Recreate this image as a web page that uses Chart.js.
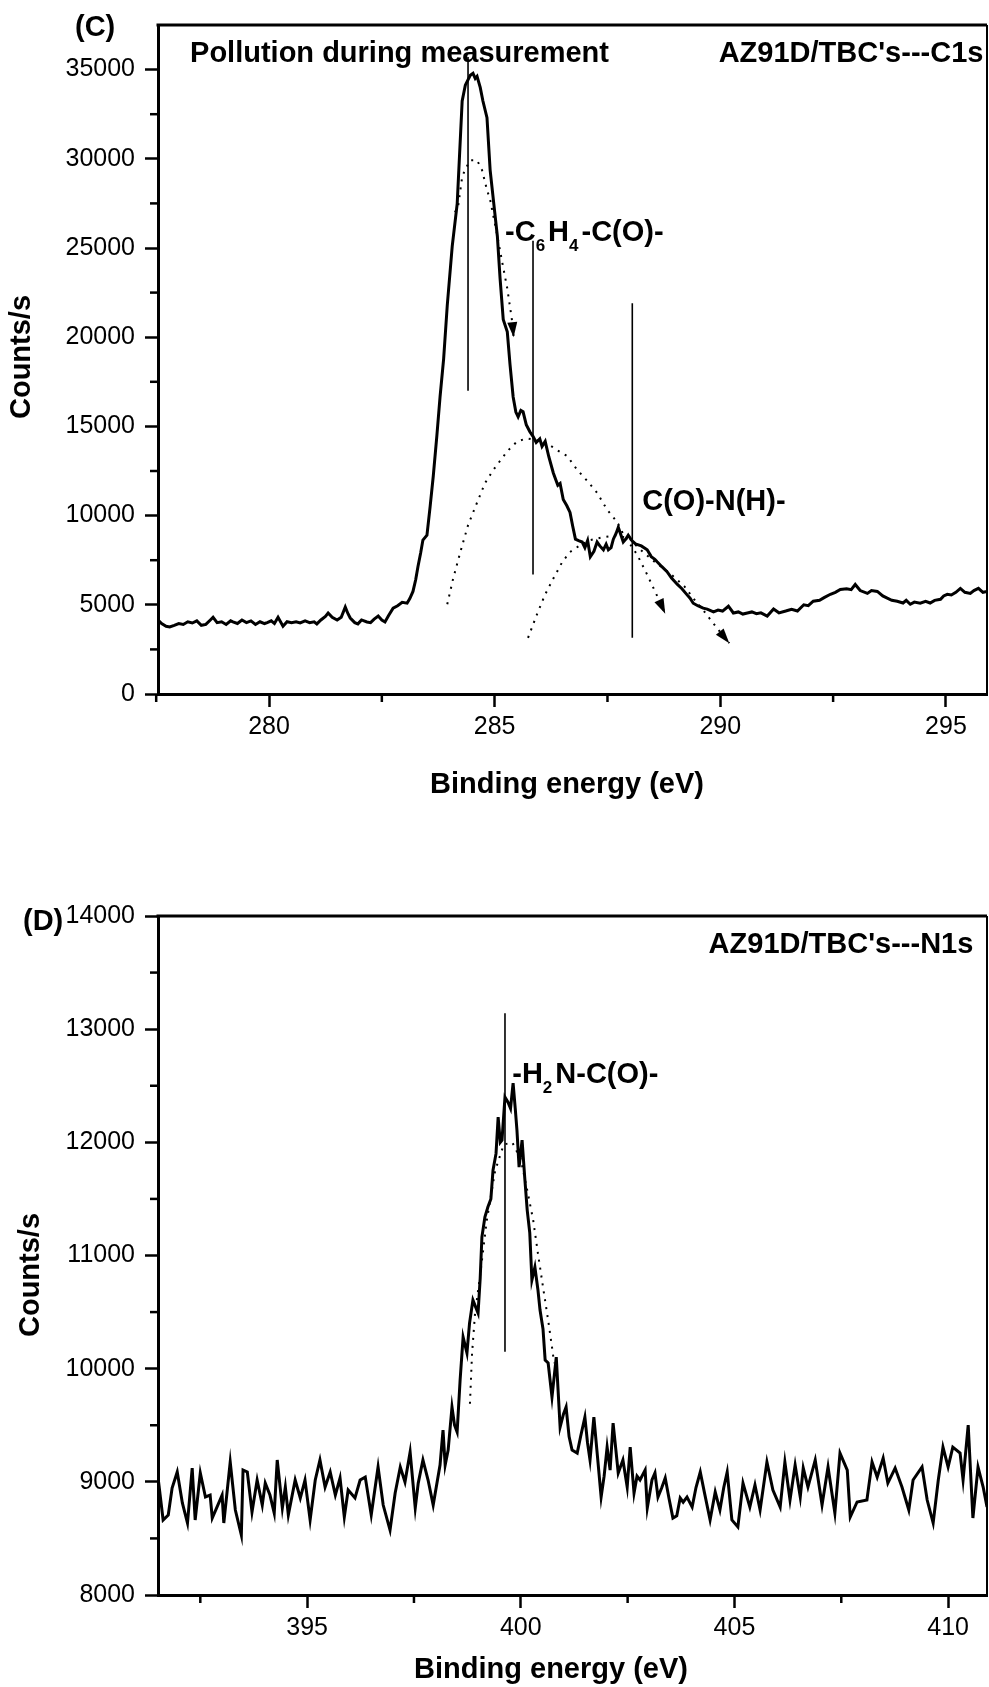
<!DOCTYPE html>
<html>
<head>
<meta charset="utf-8">
<script src="https://cdn.jsdelivr.net/npm/chart.js@4.4.1/dist/chart.umd.min.js"></script>
<style>
  html, body { margin: 0; padding: 0; background: #fff; }
  body { width: 989px; height: 1687px; position: relative; overflow: hidden; }
  .panel { position: absolute; left: 0; width: 989px; }
  #panelC { top: 0; height: 830px; }
  #panelD { top: 830px; height: 857px; }
</style>
</head>
<body>
<div class="panel" id="panelC"><canvas id="chartC" width="989" height="830"></canvas></div>
<div class="panel" id="panelD"><canvas id="chartD" width="989" height="857"></canvas></div>
<script>
// ---- (C) C1s spectrum ----
const c1sEnergy = [277.52,277.62,277.72,277.80,277.90,278.00,278.10,278.20,278.30,278.40,278.50,278.60,278.70,278.76,278.85,278.95,279.05,279.15,279.20,279.30,279.40,279.50,279.60,279.70,279.80,279.90,279.96,280.05,280.12,280.20,280.31,280.40,280.50,280.60,280.69,280.80,280.90,281.00,281.06,281.15,281.25,281.31,281.40,281.51,281.60,281.69,281.75,281.80,281.90,281.97,282.05,282.17,282.25,282.33,282.42,282.50,282.57,282.65,282.75,282.85,282.95,283.06,283.12,283.19,283.25,283.30,283.36,283.41,283.50,283.57,283.64,283.72,283.79,283.87,283.95,284.06,284.17,284.28,284.35,284.46,284.52,284.57,284.61,284.68,284.74,284.83,284.90,284.98,285.06,285.12,285.19,285.28,285.34,285.41,285.47,285.52,285.58,285.63,285.70,285.78,285.85,285.92,286.00,286.05,286.12,286.20,286.30,286.40,286.45,286.52,286.60,286.67,286.73,286.79,286.86,286.94,287.00,287.06,287.12,287.20,287.27,287.33,287.41,287.47,287.52,287.58,287.63,287.69,287.74,287.80,287.85,287.91,287.96,288.04,288.12,288.25,288.38,288.47,288.55,288.60,288.70,288.82,288.92,289.05,289.15,289.25,289.33,289.40,289.50,289.62,289.71,289.85,289.95,290.05,290.18,290.29,290.40,290.50,290.60,290.70,290.80,290.90,291.04,291.18,291.30,291.45,291.58,291.71,291.85,291.95,292.06,292.20,292.30,292.44,292.55,292.66,292.80,292.90,292.99,293.10,293.26,293.35,293.48,293.60,293.70,293.80,293.92,294.05,294.12,294.21,294.30,294.43,294.55,294.65,294.75,294.88,294.95,295.03,295.12,295.22,295.32,295.42,295.54,295.62,295.72,295.82,295.92];
const c1sCounts = [4200,3950,3800,3760,3850,3950,3900,4050,3980,4100,3850,3900,4150,4300,4000,4050,3900,4100,4040,3950,4150,4000,4100,3900,4050,3950,4000,4100,3950,4300,3800,4050,4000,4050,3980,4100,4000,4050,3930,4150,4350,4540,4300,4150,4300,4870,4500,4260,4000,3930,4150,4040,4000,4200,4370,4150,4040,4400,4810,4950,5140,5090,5350,5750,6400,7130,7900,8630,8900,10500,12220,14500,16650,18800,21790,25110,27490,33240,34130,34680,34790,34500,34620,34000,33240,32300,29370,27500,25660,23300,21000,20300,18470,16650,15800,15540,15900,15820,15100,14700,14440,14100,14300,13880,14160,13300,12390,11700,11800,10900,10550,10180,9400,8680,8600,8520,8200,8600,7690,8000,8520,8300,8080,8400,8080,8200,8680,9000,9350,8900,8520,8700,8900,8600,8410,8300,8080,7700,7550,7410,7150,6860,6500,6140,5900,5600,5370,5090,4950,4810,4760,4600,4700,4650,4920,4540,4600,4480,4540,4600,4500,4550,4370,4760,4550,4650,4750,4650,5000,4950,5200,5250,5400,5590,5700,5860,5900,5850,6140,5800,5640,5800,5750,5500,5370,5250,5200,5100,5250,5030,5150,5090,5200,5100,5250,5310,5500,5590,5550,5700,5920,5700,5640,5800,5920,5700,5750];

// fitted components (dotted) for C1s
const fit1Energy = [284.12,284.19,284.28,284.35,284.46,284.61,284.72,284.83,284.90,285.06,285.17,285.28,285.39,285.42];
const fit1Counts = [27000,27320,28980,29430,29920,29920,29370,28260,27710,25660,24170,22730,20850,20000];
const fit2Energy = [283.95,284.08,284.24,284.41,284.61,284.79,284.97,285.28,285.50,285.72,285.94,286.16,286.39,286.61,286.83,287.05,287.27,287.49,287.72,287.85,288.16,288.38,288.60,288.78];
const fit2Counts = [5030,6470,7960,9460,10730,11840,12560,13610,14160,14330,14220,14050,13660,13330,12560,11950,11280,10340,9620,8960,7800,6690,5500,4500];
const fit3Energy = [285.74,285.94,286.12,286.30,286.50,286.67,286.90,287.12,287.41,287.72,288.00,288.20,288.50,288.89,289.20,289.40,289.62,289.84,290.02,290.20];
const fit3Counts = [3150,4480,5590,6470,7410,7960,8350,8630,8790,8900,8680,8150,7500,6750,6050,5370,4700,3980,3400,2850];

// peak marker lines for C1s
const c1sMarkerEnergy = [284.41, 285.85, 288.05];
const c1sMarkerLow = [17000, 6700, 3150];
const c1sMarkerHigh = [35700, 25400, 21900];

const c1sMajorX = [280, 285, 290, 295];
const c1sMinorX = [277.5, 282.5, 287.5, 292.5];
const c1sMajorY = [0, 5000, 10000, 15000, 20000, 25000, 30000, 35000];
const c1sMinorY = [2500, 7500, 12500, 17500, 22500, 27500, 32500];

// ---- (D) N1s spectrum ----
const n1sEnergy = [391.51,391.63,391.75,391.84,391.96,392.08,392.20,392.31,392.38,392.50,392.62,392.73,392.78,392.89,393.01,393.05,393.20,393.32,393.46,393.50,393.60,393.71,393.83,393.95,394.02,394.13,394.23,394.30,394.42,394.49,394.56,394.72,394.84,394.95,395.07,395.19,395.30,395.42,395.54,395.66,395.77,395.87,395.96,396.12,396.24,396.36,396.50,396.66,396.78,396.94,397.06,397.18,397.29,397.41,397.53,397.60,397.71,397.83,397.95,398.11,398.18,398.23,398.30,398.39,398.45,398.51,398.58,398.65,398.74,398.80,398.88,399.00,399.05,399.09,399.16,399.23,399.30,399.35,399.42,399.47,399.52,399.56,399.63,399.70,399.76,399.82,399.87,399.91,399.96,400.03,400.09,400.15,400.21,400.26,400.33,400.40,400.45,400.52,400.57,400.64,400.73,400.83,400.92,401.00,401.06,401.13,401.20,401.32,401.40,401.50,401.56,401.62,401.71,401.80,401.88,401.95,402.02,402.09,402.16,402.22,402.28,402.39,402.49,402.56,402.65,402.72,402.79,402.91,402.96,403.07,403.14,403.21,403.30,403.38,403.47,403.56,403.65,403.73,403.80,403.89,404.01,404.10,404.20,404.30,404.43,404.55,404.66,404.75,404.83,404.94,405.08,405.20,405.36,405.48,405.60,405.76,405.90,406.07,406.18,406.30,406.42,406.54,406.61,406.72,406.89,407.05,407.19,407.35,407.47,407.64,407.71,407.87,408.10,408.22,408.34,408.48,408.59,408.76,408.92,409.08,409.18,409.39,409.51,409.65,409.77,409.88,410.00,410.11,410.28,410.35,410.47,410.58,410.70,410.82,410.91];
const n1sCounts = [9042,8663,8707,8945,9087,8813,8636,9122,8663,9078,8866,8883,8680,8777,8883,8636,9175,8751,8530,9104,9087,8733,9016,8795,8989,8883,8724,9193,8769,8954,8707,9016,8857,9016,8663,9016,9193,8954,9087,8883,9034,8689,8928,8857,9016,9042,8707,9131,8795,8574,8901,9131,8998,9263,8769,8989,9193,9016,8795,9148,9458,9148,9281,9661,9500,9440,9900,10279,10138,10400,10606,10491,10800,11163,11339,11428,11500,11754,11900,12222,12000,12019,12399,12355,12300,12523,12300,12108,11781,12019,11700,11401,11200,10783,10898,10700,10518,10350,10076,10050,9749,10102,9484,9600,9661,9400,9281,9254,9400,9572,9350,9193,9572,9200,8866,9050,9307,9104,9519,9300,9078,9193,8954,9307,8901,9050,9016,9104,8769,9016,9078,8866,8950,9034,8850,8680,8700,8857,8820,8866,8777,8950,9087,8900,8663,8910,8751,8950,9087,8663,8601,8989,8777,8972,8751,9175,8928,8777,9175,8839,9148,8866,9122,8954,9193,8795,9131,8724,9254,9104,8689,8822,8839,9175,9042,9210,8989,9122,8954,8751,9016,9131,8839,8636,9016,9307,9131,9307,9254,9016,9502,8680,9131,8954,8777];

const n1sFitEnergy = [398.81,398.86,398.93,399.05,399.20,399.40,399.60,399.80,400.00,400.15,400.29,400.40,400.52,400.64,400.73,400.78];
const n1sFitCounts = [9690,10138,10491,10830,11300,11750,11980,12000,11850,11578,11313,11021,10721,10429,10191,10050];

const n1sMarkerEnergy = [399.63];
const n1sMarkerLow = [10150];
const n1sMarkerHigh = [13140];

const n1sMajorX = [395, 400, 405, 410];
const n1sMinorX = [392.5, 397.5, 402.5, 407.5];
const n1sMajorY = [8000, 9000, 10000, 11000, 12000, 13000, 14000];
const n1sMinorY = [8500, 9500, 10500, 11500, 12500, 13500];

const FONT = "'Liberation Sans', Arial, sans-serif";
Chart.defaults.font.family = FONT;
Chart.defaults.color = '#000';

function zip(xs, ys) {
    return xs.map((x, i) => ({x: x, y: ys[i]}));
}

function markerSets(energy, low, high) {
    return energy.map((e, i) => ({
        data: [{x: e, y: low[i]}, {x: e, y: high[i]}],
        borderColor: '#000', borderWidth: 1.6, pointRadius: 0
    }));
}

function drawNote(ctx, chart, n) {
    const x = n.px ? n.x : chart.scales.x.getPixelForValue(n.x);
    const y = n.px ? n.y : chart.scales.y.getPixelForValue(n.y);
    const parts = typeof n.text === 'string' ? [{t: n.text}] : n.text;
    const mainFont = `bold ${n.size}px ${FONT}`;
    const subFont = `bold ${Math.round(n.size * 0.6)}px ${FONT}`;
    ctx.save();
    ctx.translate(x, y);
    if (n.rotate) ctx.rotate(n.rotate);
    ctx.textAlign = 'left';
    ctx.textBaseline = n.baseline || 'alphabetic';
    ctx.fillStyle = '#000';
    let w = 0;
    parts.forEach(p => {
        ctx.font = p.sub ? subFont : mainFont;
        w += ctx.measureText(p.t).width + (p.sub ? 3 : 0);
    });
    let cx = n.align === 'right' ? -w : (n.align === 'center' ? -w / 2 : 0);
    parts.forEach(p => {
        ctx.font = p.sub ? subFont : mainFont;
        ctx.fillText(p.t, cx, p.sub ? n.size * 0.34 : 0);
        cx += ctx.measureText(p.t).width + (p.sub ? 3 : 0);
    });
    ctx.restore();
}

// frame, minor ticks, arrow heads and text notes
const decor = {
    id: 'decor',
    afterDatasetsDraw(chart, args, opts) {
        const ctx = chart.ctx;
        const {left, right, top, bottom} = chart.chartArea;
        const xs = chart.scales.x, ys = chart.scales.y;
        ctx.save();
        chart.data.datasets.forEach((ds, i) => {
            if (!ds.arrow) return;
            const pts = chart.getDatasetMeta(i).data;
            const a = pts[pts.length - 2], b = pts[pts.length - 1];
            const ang = Math.atan2(b.y - a.y, b.x - a.x);
            const len = 15, half = 5;
            const bx = b.x - len * Math.cos(ang), by = b.y - len * Math.sin(ang);
            ctx.beginPath();
            ctx.moveTo(b.x, b.y);
            ctx.lineTo(bx + half * Math.sin(ang), by - half * Math.cos(ang));
            ctx.lineTo(bx - half * Math.sin(ang), by + half * Math.cos(ang));
            ctx.closePath();
            ctx.fillStyle = '#000';
            ctx.fill();
        });
        ctx.strokeStyle = '#000';
        ctx.lineWidth = 3;
        ctx.beginPath(); ctx.moveTo(left - 1.5, top); ctx.lineTo(right, top); ctx.stroke();
        ctx.lineWidth = 2;
        ctx.beginPath(); ctx.moveTo(right, top); ctx.lineTo(right, bottom); ctx.stroke();
        ctx.lineWidth = 2.5;
        opts.xMinor.forEach(v => {
            const p = xs.getPixelForValue(v);
            ctx.beginPath(); ctx.moveTo(p, bottom); ctx.lineTo(p, bottom + 8); ctx.stroke();
        });
        opts.yMinor.forEach(v => {
            const p = ys.getPixelForValue(v);
            ctx.beginPath(); ctx.moveTo(left, p); ctx.lineTo(left - 8, p); ctx.stroke();
        });
        opts.notes.forEach(n => drawNote(ctx, chart, n));
        ctx.restore();
    }
};

function axes(xMin, xMax, xMajor, yMin, yMax, yMajor, xHeight) {
    const grid = {drawOnChartArea: false, drawTicks: true, tickLength: 13, tickWidth: 2.5, tickColor: '#000'};
    const border = {display: true, color: '#000', width: 3};
    return {
        x: {
            type: 'linear', position: 'bottom', min: xMin, max: xMax,
            grid: grid, border: border,
            afterBuildTicks: s => { s.ticks = xMajor.map(v => ({value: v})); },
            afterFit: s => { s.height = xHeight; },
            ticks: {font: {size: 25}, color: '#000', padding: 5, maxRotation: 0, autoSkip: false,
                    callback: v => String(v)}
        },
        y: {
            type: 'linear', position: 'left', min: yMin, max: yMax,
            grid: grid, border: border,
            afterBuildTicks: s => { s.ticks = yMajor.map(v => ({value: v})); },
            afterFit: s => { s.width = 158; },
            ticks: {font: {size: 25}, color: '#000', padding: 10, autoSkip: false,
                    callback: v => String(v)}
        }
    };
}

const lineBase = {borderColor: '#000', pointRadius: 0, tension: 0};

new Chart(document.getElementById('chartC'), {
    type: 'line',
    data: {
        datasets: [
            Object.assign({data: zip(c1sEnergy, c1sCounts), borderWidth: 3}, lineBase),
            Object.assign({data: zip(fit1Energy, fit1Counts), borderWidth: 2, borderDash: [2, 6], arrow: true}, lineBase),
            Object.assign({data: zip(fit2Energy, fit2Counts), borderWidth: 2, borderDash: [2, 6], arrow: true}, lineBase),
            Object.assign({data: zip(fit3Energy, fit3Counts), borderWidth: 2, borderDash: [2, 6], arrow: true}, lineBase)
        ].concat(markerSets(c1sMarkerEnergy, c1sMarkerLow, c1sMarkerHigh))
    },
    options: {
        responsive: false, animation: false, devicePixelRatio: 1,
        parsing: false,
        layout: {padding: {top: 16, right: 2, left: 0, bottom: 0}},
        plugins: {
            legend: {display: false}, tooltip: {enabled: false},
            decor: {
                xMinor: c1sMinorX, yMinor: c1sMinorY,
                notes: [
                    {text: '(C)', px: true, x: 75, y: 36, size: 29},
                    {text: 'Pollution during measurement', x: 278.25, y: 35450, size: 29},
                    {text: "AZ91D/TBC's---C1s", x: 295.83, y: 35450, size: 29, align: 'right'},
                    {text: [{t: '-C'}, {t: '6', sub: true}, {t: 'H'}, {t: '4', sub: true}, {t: '-C(O)-'}], x: 285.23, y: 25390, size: 29},
                    {text: 'C(O)-N(H)-', x: 288.27, y: 10290, size: 29},
                    {text: 'Counts/s', px: true, x: 22, y: 357, size: 29, rotate: -Math.PI / 2, align: 'center', baseline: 'middle'},
                    {text: 'Binding energy (eV)', px: true, x: 567, y: 793, size: 29, align: 'center'}
                ]
            }
        },
        scales: axes(277.54, 295.91, c1sMajorX, 0, 37500, c1sMajorY, 136)
    },
    plugins: [decor]
});

new Chart(document.getElementById('chartD'), {
    type: 'line',
    data: {
        datasets: [
            Object.assign({data: zip(n1sEnergy, n1sCounts), borderWidth: 3}, lineBase),
            Object.assign({data: zip(n1sFitEnergy, n1sFitCounts), borderWidth: 2, borderDash: [2, 6]}, lineBase)
        ].concat(markerSets(n1sMarkerEnergy, n1sMarkerLow, n1sMarkerHigh))
    },
    options: {
        responsive: false, animation: false, devicePixelRatio: 1,
        parsing: false,
        layout: {padding: {top: 86, right: 2, left: 0, bottom: 0}},
        plugins: {
            legend: {display: false}, tooltip: {enabled: false},
            decor: {
                xMinor: n1sMinorX, yMinor: n1sMinorY,
                notes: [
                    {text: '(D)', px: true, x: 23, y: 100, size: 29},
                    {text: "AZ91D/TBC's---N1s", x: 410.59, y: 13671, size: 29, align: 'right'},
                    {text: [{t: '-H'}, {t: '2', sub: true}, {t: 'N-C(O)-'}], x: 399.80, y: 12523, size: 29},
                    {text: 'Counts/s', px: true, x: 31, y: 445, size: 29, rotate: -Math.PI / 2, align: 'center', baseline: 'middle'},
                    {text: 'Binding energy (eV)', px: true, x: 551, y: 848, size: 29, align: 'center'}
                ]
            }
        },
        scales: axes(391.51, 410.91, n1sMajorX, 8000, 14000, n1sMajorY, 92)
    },
    plugins: [decor]
});
</script>
</body>
</html>
